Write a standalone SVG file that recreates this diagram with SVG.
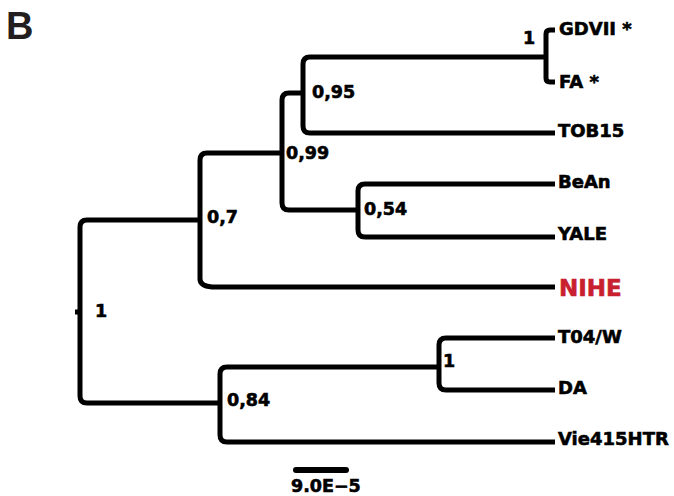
<svg xmlns="http://www.w3.org/2000/svg" width="674" height="496" viewBox="0 0 674 496">
<style>
.br{fill:none;stroke:#000;stroke-width:5;stroke-linejoin:round}
.lf{font-family:"DejaVu Sans",sans-serif;font-weight:bold;font-size:18px;fill:#000;stroke:#000;stroke-width:0.6}
.sp{font-family:"DejaVu Sans",sans-serif;font-weight:bold;font-size:17.5px;fill:#000;stroke:#000;stroke-width:0.6}
.hl{font-size:23px;fill:#c8202f;stroke:#c8202f}
</style>
<rect width="674" height="496" fill="#fff"/>
<text x="6" y="39" font-family="Liberation Sans, Arial, sans-serif" font-weight="bold" font-size="38" fill="#231f20">B</text>
<g id="connectors">
<path class="br" d="M75,312 H80"/>
<path class="br" d="M200,220 H87 Q80,220 80,227 V396 Q80,403 87,403 H220"/>
<path class="br" d="M282,153 H207 Q200,153 200,160 V279 Q200,286 212,287 H555"/>
<path class="br" d="M303,93 H289 Q282,93 282,100 V203 Q282,210 289,210 H358"/>
<path class="br" d="M545,57 H310 Q303,57 303,64 V126 Q303,133 310,133 H555"/>
<path class="br" d="M555,30 H550 Q546,30 546,34 V78 Q546,82 550,82 H555"/>
<path class="br" d="M555,184 H365 Q358,184 358,191 V230 Q358,237 365,237 H555"/>
<path class="br" d="M439,367 H227 Q220,367 220,374 V435 Q220,442 227,442 H555"/>
<path class="br" d="M555,338 H446 Q439,338 439,345 V383 Q439,390 446,390 H555"/>
</g>
<g id="leaf-GDVII"><text class="lf" x="559" y="35">GDVII *</text></g>
<g id="leaf-FA"><text class="lf" x="559" y="88">FA *</text></g>
<g id="leaf-TOB15"><text class="lf" x="558" y="137">TOB15</text></g>
<g id="leaf-BeAn"><text class="lf" x="558" y="188">BeAn</text></g>
<g id="leaf-YALE"><text class="lf" x="558" y="240">YALE</text></g>
<g id="leaf-NIHE"><text class="lf hl" x="559" y="296">NIHE</text></g>
<g id="leaf-T04W"><text class="lf" x="558" y="343">T04/W</text></g>
<g id="leaf-DA"><text class="lf" x="558" y="394">DA</text></g>
<g id="leaf-Vie415HTR"><text class="lf" x="558" y="445">Vie415HTR</text></g>
<g id="node-root"><text class="sp" x="95" y="317">1</text></g>
<g id="node-07"><text class="sp" x="207" y="223">0,7</text></g>
<g id="node-099"><text class="sp" x="286" y="159">0,99</text></g>
<g id="node-095"><text class="sp" x="312" y="98">0,95</text></g>
<g id="node-1a"><text class="sp" x="523" y="44">1</text></g>
<g id="node-054"><text class="sp" x="364" y="215">0,54</text></g>
<g id="node-084"><text class="sp" x="227" y="406">0,84</text></g>
<g id="node-1b"><text class="sp" x="443" y="367">1</text></g>
<g id="scale">
<line x1="296" y1="470" x2="346" y2="470" stroke="#000" stroke-width="6" stroke-linecap="round"/>
<text class="sp" x="291" y="492">9.0E−5</text>
</g>
</svg>
